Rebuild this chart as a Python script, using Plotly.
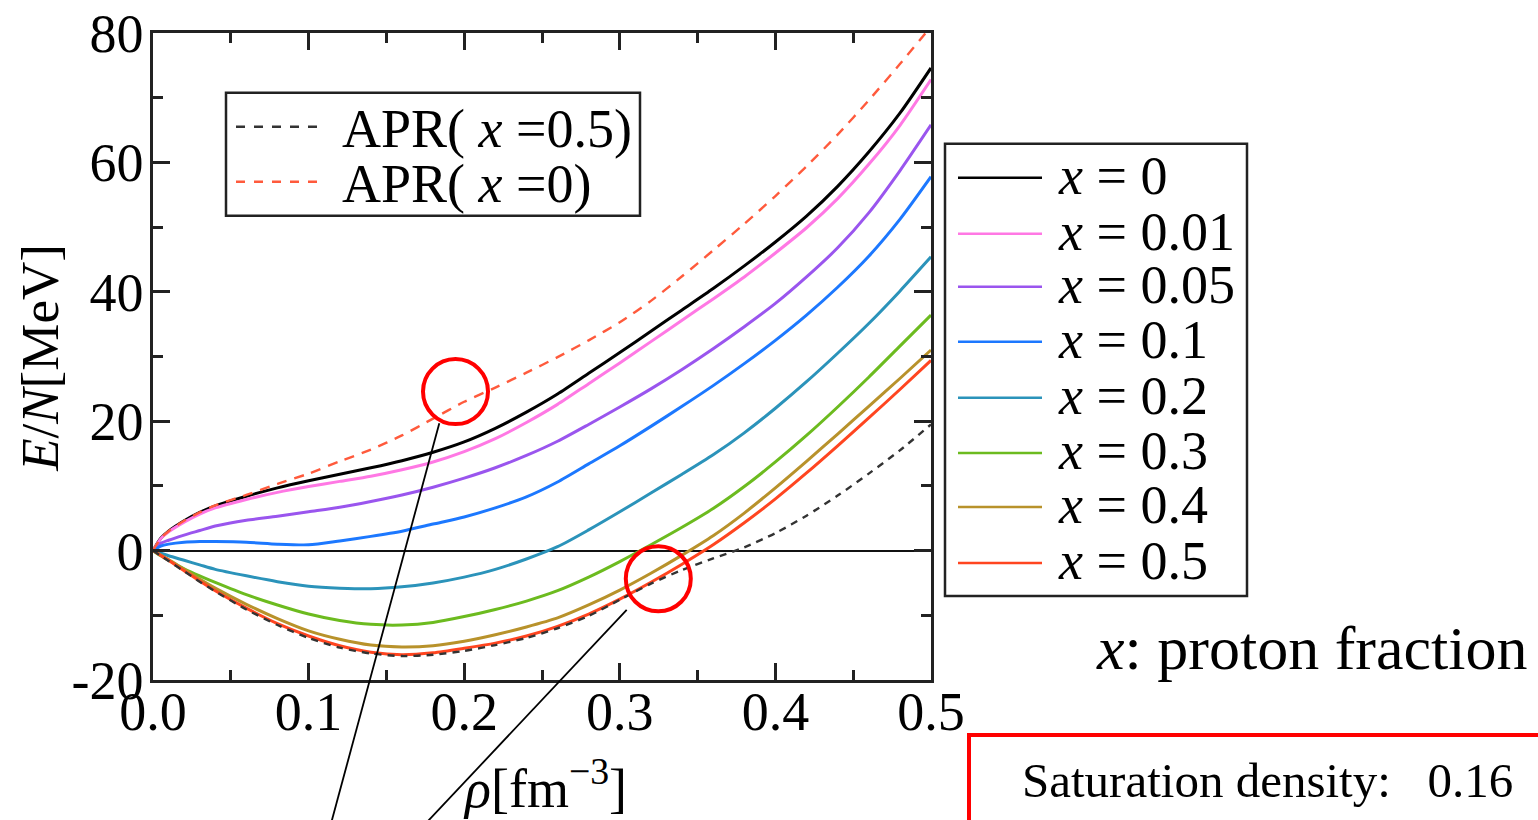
import plotly.graph_objects as go

# ---------------- data ----------------
rho = [0, .005, .01, .02, .03, .04, .06, .08, .10, .12, .14, .16, .18, .20, .22,
       .24, .26, .28, .30, .32, .34, .36, .38, .40, .42, .44, .46, .48, .50]

e_x000 = [0, 1.9, 3.0, 4.6, 5.9, 6.9, 8.4, 9.7, 10.8, 11.8, 12.8, 13.9, 15.2, 16.8, 18.9,
          21.4, 24.2, 27.4, 30.6, 33.9, 37.2, 40.5, 44.0, 47.7, 51.7, 56.3, 61.6, 67.6, 74.6]
e_x001 = [0, 1.85, 2.9, 4.4, 5.65, 6.6, 7.9, 9.0, 9.9, 10.7, 11.5, 12.5, 13.7, 15.3, 17.3,
          19.8, 22.6, 25.8, 29.0, 32.3, 35.6, 38.9, 42.3, 46.0, 49.9, 54.4, 59.7, 65.7, 72.8]
e_x005 = [0, 1.1, 1.6, 2.4, 3.1, 3.8, 4.7, 5.3, 6.0, 6.7, 7.6, 8.6, 9.8, 11.2, 12.8,
          14.7, 16.9, 19.5, 22.2, 25.0, 28.0, 31.2, 34.6, 38.2, 42.3, 46.8, 52.2, 58.7, 65.8]
e_x010 = [0, 0.7, 1.0, 1.3, 1.4, 1.4, 1.3, 1.0, 0.9, 1.5, 2.2, 3.0, 4.1, 5.2, 6.6,
          8.3, 10.6, 13.4, 16.2, 19.2, 22.3, 25.5, 28.9, 32.5, 36.4, 40.7, 45.5, 51.2, 57.8]
e_x020 = [0, -0.4, -0.8, -1.5, -2.2, -2.9, -3.9, -4.8, -5.5, -5.8, -5.9, -5.6, -5.0, -4.1, -2.9,
          -1.3, 0.6, 3.2, 6.0, 8.9, 11.8, 14.8, 18.2, 22.0, 26.1, 30.5, 35.1, 40.1, 45.4]
e_x030 = [0, -0.8, -1.5, -2.8, -3.9, -4.9, -6.8, -8.4, -9.8, -10.8, -11.4, -11.5, -11.1, -10.2, -9.1,
          -7.8, -6.2, -4.1, -1.7, 0.9, 3.6, 6.5, 9.9, 13.7, 17.8, 22.2, 26.8, 31.6, 36.4]
e_x040 = [0, -0.7, -1.4, -2.9, -4.4, -5.8, -8.3, -10.5, -12.4, -13.7, -14.6, -14.9, -14.7, -14.0, -13.0,
          -11.8, -10.4, -8.4, -6.1, -3.5, -0.7, 2.3, 5.8, 9.7, 13.8, 18.0, 22.3, 26.6, 31.0]
e_x050 = [0, -0.75, -1.5, -3.1, -4.7, -6.2, -8.9, -11.3, -13.2, -14.7, -15.7, -16.1, -15.8, -15.1, -14.3,
          -13.2, -11.7, -9.8, -7.5, -4.9, -2.1, 0.9, 4.3, 8.0, 12.0, 16.2, 20.5, 24.9, 29.4]
apr_x05 = [0, -0.8, -1.6, -3.2, -4.8, -6.3, -9.1, -11.5, -13.5, -15.0, -15.9, -16.3, -16.1, -15.5, -14.6,
           -13.5, -12.0, -10.1, -7.6, -5.1, -3.0, -1.2, 0.5, 2.7, 5.4, 8.5, 11.9, 15.5, 19.5]
apr_x0 = [0, 1.9, 3.0, 4.6, 5.9, 7.0, 8.6, 10.3, 11.9, 13.8, 15.6, 17.8, 20.4, 23.0, 25.2,
          27.5, 29.9, 32.5, 35.3, 38.6, 42.4, 46.4, 50.5, 54.8, 59.4, 64.3, 69.6, 75.2, 81.0]

series_names = ["x = 0", "x = 0.01", "x = 0.05", "x = 0.1", "x = 0.2", "x = 0.3", "x = 0.4", "x = 0.5"]
series_values = [e_x000, e_x001, e_x005, e_x010, e_x020, e_x030, e_x040, e_x050]
series_labels = ["0", "0.01", "0.05", "0.1", "0.2", "0.3", "0.4", "0.5"]
apr_names = ["APR( x =0.5)", "APR( x =0)"]
apr_labels = ["0.5", "0"]
apr_values = [apr_x05, apr_x0]

x_ticks = [0.0, 0.1, 0.2, 0.3, 0.4, 0.5]
y_ticks = [-20, 0, 20, 40, 60, 80]
y_ticktext = ["-20", "0", "20", "40", "60", "80"]

# ---------------- styling ----------------
colors = ["#000000", "#ff78e4", "#9a55ee", "#1c78ff", "#2b93ba", "#6cbb1f", "#b8922b", "#ff4520"]
apr_colors = ["#333333", "#ff5a3c"]
FONT = "Liberation Serif"
W, H = 1538, 820
L, R, T, B = 153, 931, 33.3, 680.0


def px(xp):
    return (xp - L) / (R - L)


def py(yp):
    return (B - yp) / (B - T)


fig = go.Figure()

for name, vals, col in zip(series_names, series_values, colors):
    fig.add_trace(go.Scatter(x=rho, y=vals, mode="lines", name=name,
                             line=dict(color=col, width=3, shape="spline", smoothing=0.7),
                             showlegend=False))

for name, vals, col, dash in zip(apr_names, apr_values, apr_colors, ["7px,6px", "10px,8px"]):
    fig.add_trace(go.Scatter(x=rho, y=vals, mode="lines", name=name,
                             line=dict(color=col, width=2.4, dash=dash, shape="spline", smoothing=0.7),
                             showlegend=False))

shapes = []
annotations = []

# ---- legend 1 (APR) ----
shapes.append(dict(type="rect", xref="paper", yref="paper",
                   x0=px(226), x1=px(640), y0=py(216), y1=py(93),
                   line=dict(color="#222222", width=2.5), fillcolor="white", layer="below"))
for i, (lab, col) in enumerate(zip(apr_labels, apr_colors)):
    yy = [127, 182][i]
    shapes.append(dict(type="line", xref="paper", yref="paper",
                       x0=px(236), x1=px(321), y0=py(yy), y1=py(yy),
                       line=dict(color=col, width=2.4, dash="dash")))
    annotations.append(dict(xref="paper", yref="paper", x=px(340), y=py(yy + 2),
                            xanchor="left", yanchor="middle", showarrow=False,
                            text="APR( <i>x</i> =" + lab + ")",
                            font=dict(family=FONT, size=54, color="black")))

# ---- legend 2 (proton fractions) ----
shapes.append(dict(type="rect", xref="paper", yref="paper",
                   x0=px(945), x1=px(1247), y0=py(596), y1=py(144),
                   line=dict(color="#222222", width=2.5), fillcolor="white"))
leg_y = [178, 234, 287, 342, 398, 453, 507, 563]
for lab, col, yy in zip(series_labels, colors, leg_y):
    shapes.append(dict(type="line", xref="paper", yref="paper",
                       x0=px(958), x1=px(1042), y0=py(yy), y1=py(yy),
                       line=dict(color=col, width=2.5)))
    annotations.append(dict(xref="paper", yref="paper", x=px(1056), y=py(yy - 2),
                            xanchor="left", yanchor="middle", showarrow=False,
                            text="<i>x</i> = " + lab,
                            font=dict(family=FONT, size=54, color="black")))

# ---- red circles + pointer lines ----
for cx, cy in [(455.5, 391.7), (658.3, 578.8)]:
    r = 32.5
    shapes.append(dict(type="circle", xref="paper", yref="paper",
                       x0=px(cx - r), x1=px(cx + r), y0=py(cy + r), y1=py(cy - r),
                       line=dict(color="#ff0000", width=4)))
for (x0, y0, x1, y1) in [(439.3, 423.3, 331.4, 822), (626.7, 610, 427, 822)]:
    shapes.append(dict(type="line", xref="paper", yref="paper",
                       x0=px(x0), y0=py(y0), x1=px(x1), y1=py(y1),
                       line=dict(color="black", width=1.8)))

# ---- red box at bottom-right ----
shapes.append(dict(type="rect", xref="paper", yref="paper",
                   x0=px(969), x1=px(1560), y0=py(840), y1=py(735),
                   line=dict(color="#ff0000", width=4)))
annotations.append(dict(xref="paper", yref="paper", x=px(1020), y=py(780),
                        xanchor="left", yanchor="middle", showarrow=False,
                        text="Saturation density:&nbsp;&nbsp; 0.16",
                        font=dict(family=FONT, size=49, color="black")))
annotations.append(dict(xref="paper", yref="paper", x=px(1094), y=py(648),
                        xanchor="left", yanchor="middle", showarrow=False,
                        text="<i>x</i>: proton fraction",
                        font=dict(family=FONT, size=62, color="black")))

# ---- axis titles ----
annotations.append(dict(xref="paper", yref="paper", x=px(545), y=py(784),
                        xanchor="center", yanchor="middle", showarrow=False,
                        text="<i>ρ</i>[fm<sup>−3</sup>]",
                        font=dict(family=FONT, size=54, color="black")))
annotations.append(dict(xref="paper", yref="paper", x=px(40), y=py(358),
                        xanchor="center", yanchor="middle", showarrow=False, textangle=-90,
                        text="<i>E</i>/<i>N</i>[MeV]",
                        font=dict(family=FONT, size=53, color="black")))

axis_common = dict(showgrid=False, showline=True, linecolor="#222222", linewidth=2.5,
                   mirror="ticks", ticks="inside", tickcolor="#222222", tickwidth=2.5,
                   ticklen=17, tickfont=dict(family=FONT, size=54, color="black"))

fig.update_layout(
    width=W, height=H,
    margin=dict(l=L, r=W - R, t=T, b=H - B, autoexpand=False),
    paper_bgcolor="white", plot_bgcolor="white",
    showlegend=False,
    shapes=shapes, annotations=annotations,
    xaxis=dict(range=[0, 0.5], tickvals=x_ticks, tickformat=".1f", zeroline=False,
               minor=dict(dtick=0.05, tick0=0, ticks="inside", ticklen=10,
                          tickwidth=2.5, tickcolor="#222222"),
               ticklabelstandoff=-18, **axis_common),
    yaxis=dict(range=[-20, 80], tickvals=y_ticks, ticktext=y_ticktext,
               zeroline=True, zerolinecolor="#111111", zerolinewidth=2,
               minor=dict(dtick=10, tick0=0, ticks="inside", ticklen=10,
                          tickwidth=2.5, tickcolor="#222222"),
               ticklabelstandoff=-4, **axis_common),
)

fig.write_html("out.html", post_script="document.body.style.margin='0';",
               config={"displayModeBar": False})
